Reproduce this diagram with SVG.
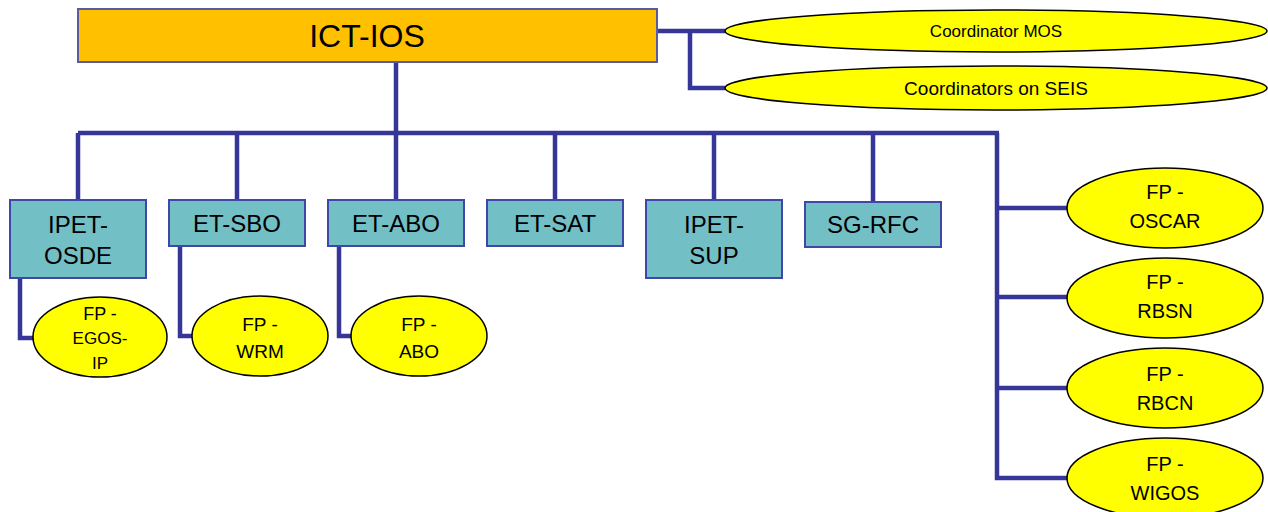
<svg xmlns="http://www.w3.org/2000/svg" width="1268" height="512" viewBox="0 0 1268 512">
<style>
.box{fill:#72BFC5;stroke:#3F48A8;stroke-width:2}
.top{fill:#FFC000;stroke:#5A5A9E;stroke-width:2}
.ell{fill:#FFFF00;stroke:#000;stroke-width:1.5}
.t{font-family:"Liberation Sans",Arial,sans-serif;fill:#000;text-anchor:middle}
.conn{fill:none;stroke:#363699;stroke-width:4.5}
</style>
<rect width="1268" height="512" fill="#fff"/>
<g id="connectors" class="conn">
<path d="M657,31H725M690,31V88H725"/>
<path d="M396,62V133M78,133H999M78,133V200M237,133V200M396,133V200M555,133V200M714,133V200M873,133V202"/>
<path d="M997,133V478H1067M997,208H1067M997,297H1067M997,388H1067"/>
<path d="M20,278V338H34M180,246V336H193M339,246V336H352"/>
</g>
<g id="ict-ios"><rect class="top" x="78" y="9" width="579" height="53"/><text class="t" x="367" y="47" font-size="32">ICT-IOS</text></g>
<g id="coord-mos"><ellipse class="ell" cx="996" cy="31" rx="271" ry="21"/><text class="t" x="996" y="37" font-size="17">Coordinator MOS</text></g>
<g id="coord-seis"><ellipse class="ell" cx="996" cy="88" rx="271" ry="22"/><text class="t" x="996" y="95" font-size="19">Coordinators on SEIS</text></g>
<g id="ipet-osde"><rect class="box" x="10" y="200" width="136" height="78"/><text class="t" x="78" y="233" font-size="24">IPET-</text><text class="t" x="78" y="264" font-size="24">OSDE</text></g>
<g id="et-sbo"><rect class="box" x="169" y="200" width="136" height="46"/><text class="t" x="237" y="232" font-size="24">ET-SBO</text></g>
<g id="et-abo"><rect class="box" x="328" y="200" width="136" height="46"/><text class="t" x="396" y="232" font-size="24">ET-ABO</text></g>
<g id="et-sat"><rect class="box" x="487" y="200" width="136" height="46"/><text class="t" x="555" y="232" font-size="24">ET-SAT</text></g>
<g id="ipet-sup"><rect class="box" x="646" y="200" width="136" height="78"/><text class="t" x="714" y="233" font-size="24">IPET-</text><text class="t" x="714" y="264" font-size="24">SUP</text></g>
<g id="sg-rfc"><rect class="box" x="805" y="202" width="136" height="45"/><text class="t" x="873" y="233" font-size="24">SG-RFC</text></g>
<g id="fp-egos-ip"><ellipse class="ell" cx="100" cy="337" rx="67" ry="40"/><text class="t" x="100" y="320" font-size="18">FP -</text><text class="t" x="100" y="344" font-size="17">EGOS-</text><text class="t" x="100" y="369" font-size="17">IP</text></g>
<g id="fp-wrm"><ellipse class="ell" cx="260" cy="336" rx="68" ry="40"/><text class="t" x="260" y="331" font-size="19">FP -</text><text class="t" x="260" y="358" font-size="19">WRM</text></g>
<g id="fp-abo"><ellipse class="ell" cx="419" cy="336" rx="68" ry="40"/><text class="t" x="419" y="331" font-size="19">FP -</text><text class="t" x="419" y="358" font-size="19">ABO</text></g>
<g id="fp-oscar"><ellipse class="ell" cx="1165" cy="208" rx="98" ry="40"/><text class="t" x="1165" y="199" font-size="20">FP -</text><text class="t" x="1165" y="228" font-size="20">OSCAR</text></g>
<g id="fp-rbsn"><ellipse class="ell" cx="1165" cy="298" rx="98" ry="40"/><text class="t" x="1165" y="289" font-size="20">FP -</text><text class="t" x="1165" y="318" font-size="20">RBSN</text></g>
<g id="fp-rbcn"><ellipse class="ell" cx="1165" cy="388" rx="98" ry="40"/><text class="t" x="1165" y="381" font-size="20">FP -</text><text class="t" x="1165" y="410" font-size="20">RBCN</text></g>
<g id="fp-wigos"><ellipse class="ell" cx="1165" cy="478" rx="98" ry="40"/><text class="t" x="1165" y="471" font-size="20">FP -</text><text class="t" x="1165" y="500" font-size="20">WIGOS</text></g>
</svg>
